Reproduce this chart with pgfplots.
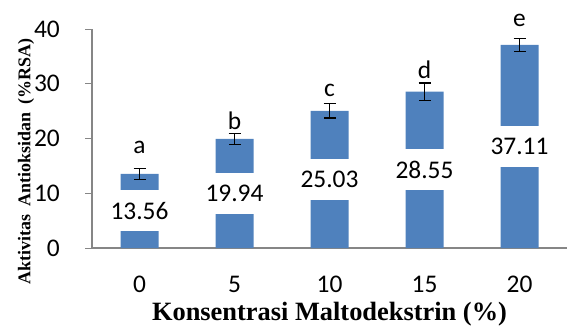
\documentclass[border=0pt]{standalone}
\usepackage{fontspec}
\setmainfont{Carlito}
\newfontfamily\tnr{Liberation Serif}
\usepackage{pgfplots}
\pgfplotsset{compat=1.18}
\definecolor{barblue}{HTML}{4F81BD}
\definecolor{axgray}{HTML}{868686}
\begin{document}
\begin{tikzpicture}
\begin{axis}[
  name=ax,
  width=475bp, height=219bp, scale only axis,
  xmin=-0.5, xmax=4.5, ymin=0, ymax=40,
  axis x line*=bottom, axis y line*=left,
  axis line style={draw=axgray, line width=1.2bp, -},
  xtick={0,1,2,3,4}, xticklabels={0,5,10,15,20},
  ytick={0,10,20,30,40},
  x tick style={draw=none},
  y tick style={draw=axgray, line width=1bp},
  tick align=outside, major tick length=7bp,
  font=\fontsize{25.5}{30}\selectfont,
  /pgf/number format/assume math mode=true,
  xticklabel style={anchor=center, yshift=-29bp},
  yticklabel style={anchor=east, inner sep=0pt, xshift=-25bp},
  every axis x label/.style={at={(rel axis cs:0.5,0)}, anchor=center, yshift=-66bp, font=\tnr\bfseries\fontsize{26.5}{30}\selectfont},
  every axis y label/.style={at={(rel axis cs:0,0.5)}, xshift=-66bp, yshift=-23bp, rotate=90, anchor=center, font=\tnr\bfseries\fontsize{18}{21}\selectfont},
  xlabel={Konsentrasi Maltodekstrin (\%)},
  ylabel={Aktivitas\hspace{0.47em}Antioksidan\hspace{0.47em}(\%RSA)},
  clip=false,
]
\addplot[ybar, bar width=0.4, fill=barblue, draw=none,
  error bars/.cd, y dir=both, y explicit,
  error bar style={black, line width=1.2bp},
  error mark options={rotate=90, mark size=6bp, line width=1.2bp, black}]
  coordinates {(0,13.56) +- (0,1.0) (1,19.94) +- (0,1.0) (2,25.03) +- (0,1.3) (3,28.55) +- (0,1.6) (4,37.11) +- (0,1.2)};
\addplot[draw=none, mark=none, nodes near coords, point meta=explicit symbolic,
  nodes near coords style={anchor=center, fill=white, minimum height=41bp, inner xsep=3bp, text=black}]
  coordinates {(0,6.78)[13.56] (1,9.97)[19.94] (2,12.515)[25.03] (3,14.275)[28.55] (4,18.555)[37.11]};
\addplot[draw=none, mark=none, nodes near coords, point meta=explicit symbolic,
  nodes near coords style={anchor=base, inner sep=0pt, text=black}]
  coordinates {(0,17.3)[a] (1,21.7)[b] (2,27.6)[c] (3,30.9)[d] (4,40.5)[e]};
\end{axis}
\pgfresetboundingbox
\path ([shift={(-92bp,-77bp)}]ax.south west) rectangle ([shift={(0bp,29bp)}]ax.north east);
\end{tikzpicture}
\end{document}
